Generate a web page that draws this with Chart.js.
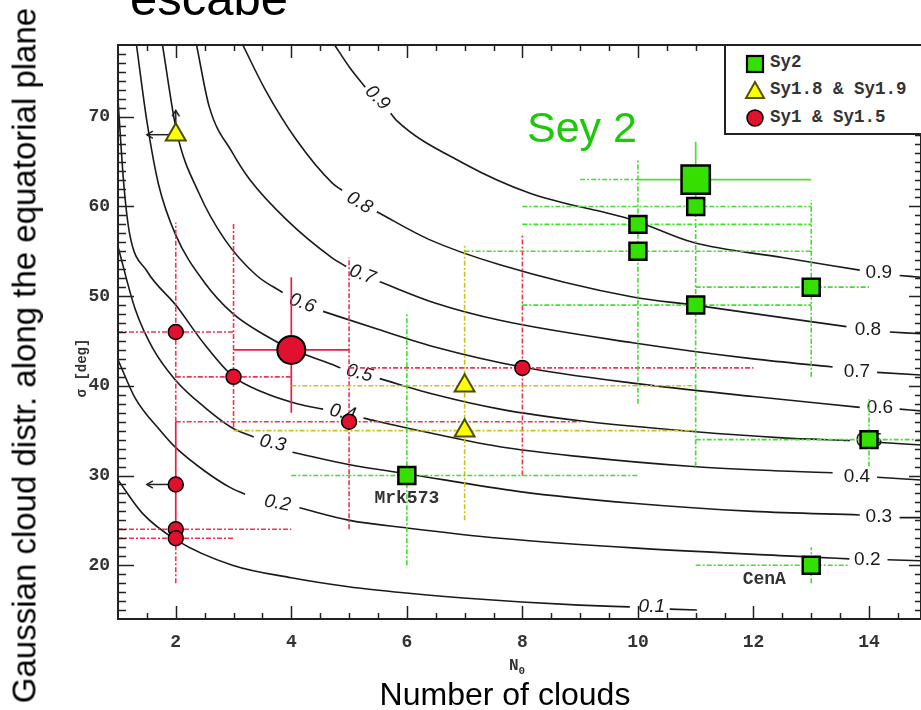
<!DOCTYPE html>
<html>
<head>
<meta charset="utf-8">
<script src="https://cdn.jsdelivr.net/npm/chart.js@4.4.1/dist/chart.umd.min.js"></script>
<style>
html,body{margin:0;padding:0;background:#fff;}
#wrap{position:relative;width:921px;height:710px;overflow:hidden;background:#fff;}
#c{position:absolute;left:0;top:0;}
.t{position:absolute;white-space:nowrap;font-family:"Liberation Sans",Arial,sans-serif;color:#000;line-height:1;}
.m{position:absolute;white-space:nowrap;font-family:"Liberation Mono",monospace;font-weight:bold;color:#333;line-height:1;}
#legend{position:absolute;left:724px;top:44px;width:200px;height:91px;border:2px solid #222;background:#fff;box-sizing:border-box;}
#legend svg{position:absolute;}
</style>
</head>
<body>
<div id="wrap">
<canvas id="c" width="921" height="710"></canvas>
<div class="t" style="left:130px;top:-26.5px;font-size:49px;">escabe</div>
<div class="t" style="left:527px;top:105.6px;font-size:43px;color:#1bc80a;">Sey 2</div>
<div class="t" style="left:205px;width:600px;text-align:center;top:678px;font-size:32px;">Number of clouds</div>
<div class="t" style="left:-326.4px;top:338.5px;width:700px;height:33px;text-align:center;font-size:33px;transform:rotate(-90deg);">Gaussian cloud distr. along the equatorial plane</div>
<div class="m" style="left:32px;top:361px;width:100px;text-align:center;font-size:14px;transform:rotate(-90deg);">σ [deg]</div>
<div class="m" style="left:509px;top:658px;font-size:16px;">N<sub style="font-size:11px;">0</sub></div>
<div id="legend">
  <svg style="left:19px;top:8px;" width="20" height="20"><rect x="2" y="2" width="16" height="16" fill="#33e000" stroke="#000" stroke-width="2.2"/></svg>
  <svg style="left:18px;top:34px;" width="22" height="20"><polygon points="11,2 20,18 2,18" fill="#ffff00" stroke="#555500" stroke-width="2"/></svg>
  <svg style="left:19px;top:62px;" width="20" height="20"><circle cx="10" cy="10" r="8" fill="#e0102e" stroke="#000" stroke-width="1.5"/></svg>
  <div class="m" style="left:44px;top:8px;font-size:17.5px;">Sy2</div>
  <div class="m" style="left:44px;top:35px;font-size:17.5px;">Sy1.8 &amp; Sy1.9</div>
  <div class="m" style="left:44px;top:63px;font-size:17.5px;">Sy1 &amp; Sy1.5</div>
</div>
</div>
<script>
// ---------- axis tick labels ----------
const xTickLabels = [2, 4, 6, 8, 10, 12, 14];
const yTickLabels = [20, 30, 40, 50, 60, 70];

// ---------- Sy2 (green squares) ----------
const sy2X = [11, 10, 10, 11, 13, 14, 6, 13];
const sy2Y = [60, 58, 55, 49, 51, 34, 30, 20];
// error ranges [xlo, xhi, ylo, yhi]
const sy2Err = [[8,13,49,60],[8,13,58,65.2],[7,13,38,58],[8,13,31,49],[11,14,41,60.7],[11,15,31,38.5],[4,10,20,48.1],[11,13.67,18,22]];
const sy2MeanX = [11];
const sy2MeanY = [63];
const sy2MeanErr = [[10,13,59.5,67.2]];
const sy2MeanErrExt = [[9,10,null,null]];

// ---------- Sy1.8 & Sy1.9 (yellow triangles) ----------
const sy18X = [2, 7, 7];
const sy18Y = [68, 40, 35];
const sy18Err = [null,[4,11,35,55.7],[3,11,25,35]];
// limits [x, y, xArrowTo, yArrowTo]
const sy18Limits = [[2,68,1.5,70.7]];

// ---------- Sy1 & Sy1.5 (red circles) ----------
const sy1X = [2, 3, 5, 8, 2, 2, 2];
const sy1Y = [46, 41, 36, 42, 29, 24, 23];
const sy1Err = [[1,3,36,58.2],[2,4,35.4,58.2],[2,9,24,54.3],[5,12,30,57],null,[1,4,null,null],[1,3,18,23]];
const sy1SolidErr = [null,null,null,null,[null,null,23,36],null,null];
const sy1Limits = [[2,29,1.5,null]];
const sy1MeanX = [4];
const sy1MeanY = [44];
const sy1MeanErr = [[3,5,37,52.1]];

// ---------- escape-probability contours (null = label gap) ----------
const c09 = [[4.75,78],[5.01,75.5],[5.28,73.3],null,[5.72,70.4],[5.82,69.6],[6.97,64.85],[8.12,61.5],[9.91,58.5],[10.95,56.0],[12.5,54.3],[13.84,52.9],null,[14.53,52.3],[14.9,52.1]];
const c08 = [[3.16,78],[3.55,73.0],[4.09,67.4],[4.71,62.6],[4.88,61.8],null,[5.48,59.4],[6.39,56.3],[7.61,53.5],[9.91,49.9],[10.98,49.0],[12.5,47.6],[13.61,46.6],null,[14.36,46.0],[14.9,45.8]];
const c07 = [[2.36,78],[2.58,71.1],[2.98,66.0],[3.28,63.0],[3.92,58.5],[4.7,54.3],[4.95,53.3],null,[5.53,51.6],[6.5,49.2],[7.61,47.3],[9.91,44.8],[12.0,43.0],[13.37,42.1],null,[14.14,41.5],[14.9,41.2]];
const c06 = [[1.77,78],[2.02,68.2],[2.4,61.5],[2.85,56.3],[3.4,52.3],[3.85,50.4],null,[4.55,48.3],[5.5,46.3],[6.5,44.3],[7.99,42.1],[9.91,40.3],[12.0,38.8],[13.84,37.6],null,[14.53,37.4],[14.9,37.2]];
const c05 = [[1.32,78],[1.5,69.5],[1.7,62.5],[2.0,56.8],[2.5,51.5],[2.98,48.1],[3.5,45.8],[4.0,44.1],[4.7,42.4],[4.85,42.0],null,[5.53,40.8],[6.5,39.0],[7.61,37.4],[9.0,36.1],[10.95,34.9],[12.5,34.2],[13.67,33.9],null,[14.14,33.7],[14.9,33.4]];
const c04 = [[1.0,71.9],[1.1,62.5],[1.2,57.0],[1.5,52.8],[2.0,49.0],[2.5,44.6],[2.98,41.1],[3.5,39.3],[4.1,38.0],[4.55,37.4],null,[5.25,36.4],[6.0,35.3],[7.61,33.2],[9.0,32.1],[10.95,31.0],[12.5,30.5],[13.37,30.3],null,[14.14,29.8],[14.9,29.5]];
const c03 = [[1.0,55.5],[1.3,48.5],[1.6,44.2],[2.0,40.6],[2.5,37.6],[2.98,35.3],[3.35,34.3],null,[4.02,32.6],[5.01,31.2],[6.0,30.2],[7.95,28.2],[9.91,26.9],[12.0,26.0],[13.84,25.6],null,[14.53,25.3],[14.9,25.3]];
const c02 = [[1.0,42.9],[1.3,38.6],[1.72,35.1],[2.0,33.1],[2.5,30.5],[2.93,28.7],[3.2,27.9],null,[4.14,26.4],[5.01,25.0],[6.0,24.15],[7.61,23.0],[9.98,21.9],[13.01,20.9],[13.66,20.7],null,[14.32,20.6],[14.9,20.5]];
const c01 = [[1.0,29.5],[1.42,25.8],[2.01,22.8],[2.98,20.0],[4.0,18.6],[4.99,17.6],[5.99,16.9],[6.98,16.35],[7.99,15.9],[8.99,15.55],[9.86,15.35],null,[10.55,15.1],[11.02,15.0]];

// contour labels: [text, x, y, angle, italic]
const contourLabels = [
  ['0.9',5.49,72.1,45,true],['0.8',5.18,60.4,30,true],['0.7',5.23,52.4,20,true],['0.6',4.19,49.2,20,true],
  ['0.5',5.18,41.4,15,true],['0.4',4.89,37.0,12,true],['0.3',3.68,33.6,12,true],['0.2',3.76,26.9,10,true],
  ['0.1',10.24,15.4,0,true],
  ['0.9',14.17,52.6,0,false],['0.8',13.98,46.2,0,false],['0.7',13.79,41.55,0,false],['0.6',14.19,37.6,0,false],
  ['0.5',14.0,33.9,0,false],['0.4',13.79,29.9,0,false],['0.3',14.17,25.4,0,false],['0.2',13.97,20.6,0,false]
];
const pointNames = [['Mrk573',6,30],['CenA',13,20]];

// ---------- helpers ----------
const toXY = (xs, ys) => xs.map((x, i) => ({x: x, y: ys[i]}));
const toCurve = arr => arr.map(p => p ? {x: p[0], y: p[1]} : {x: NaN, y: null});
function errSegs(xs, ys, errs) {
  const pts = [];
  errs.forEach((e, i) => {
    if (!e) return;
    const [xlo, xhi, ylo, yhi] = e;
    if (xlo != null) pts.push({x: xlo, y: ys[i]}, {x: xhi, y: ys[i]}, {x: xhi, y: null});
    if (ylo != null) pts.push({x: xs[i], y: ylo}, {x: xs[i], y: yhi}, {x: xs[i], y: null});
  });
  return pts;
}
const dash = [5, 2, 2, 2];
const errDs = (data, color, dashed, w) => ({type: 'scatter', data, showLine: true, spanGaps: false, borderColor: color,
  borderWidth: w || 1.6, borderDash: dashed ? dash : [], pointRadius: 0, tension: 0, order: 20});
const curveDs = arr => ({type: 'scatter', data: toCurve(arr), showLine: true, spanGaps: false, borderColor: '#1a1a1a',
  borderWidth: 1.6, pointRadius: 0, tension: 0.4, cubicInterpolationMode: 'monotone', order: 30});

const datasets = [
  curveDs(c01), curveDs(c02), curveDs(c03), curveDs(c04), curveDs(c05), curveDs(c06), curveDs(c07), curveDs(c08), curveDs(c09),
  errDs(errSegs(sy2X, sy2Y, sy2Err), '#3fe02a', true),
  errDs(errSegs(sy2MeanX, sy2MeanY, sy2MeanErrExt), '#3fe02a', true),
  errDs(errSegs(sy2MeanX, sy2MeanY, sy2MeanErr), '#4ee030', false, 1.7),
  errDs(errSegs(sy18X, sy18Y, sy18Err), '#c9c21a', true),
  errDs(errSegs(sy1X, sy1Y, sy1Err), '#f0344f', true),
  errDs(errSegs(sy1X, sy1Y, sy1SolidErr), '#ec1c40', false, 1.7),
  errDs(errSegs(sy1MeanX, sy1MeanY, sy1MeanErr), '#ec1c40', false, 1.7),
  {label: 'Sy2', data: toXY(sy2X, sy2Y), pointStyle: 'rect', pointRadius: 12, backgroundColor: '#33e000', borderColor: '#000', borderWidth: 2.5, order: 2},
  {label: 'Sy2 mean', data: toXY(sy2MeanX, sy2MeanY), pointStyle: 'rect', pointRadius: 20, backgroundColor: '#33e000', borderColor: '#000', borderWidth: 2.5, order: 3},
  {label: 'Sy1.8 & Sy1.9', data: toXY(sy18X, sy18Y), pointStyle: 'triangle', pointRadius: 11.5, backgroundColor: '#ffff00', borderColor: '#4d4d00', borderWidth: 2, order: 2},
  {label: 'Sy1 & Sy1.5', data: toXY(sy1X, sy1Y), pointStyle: 'circle', pointRadius: 7.5, backgroundColor: '#e0102e', borderColor: '#000', borderWidth: 1.5, order: 2},
  {label: 'Sy1 mean', data: toXY(sy1MeanX, sy1MeanY), pointStyle: 'circle', pointRadius: 14, backgroundColor: '#e0102e', borderColor: '#000', borderWidth: 2, order: 3}
];

const annotPlugin = {
  id: 'annot',
  beforeDatasetsDraw(chart) {
    const {ctx, scales: {x, y}} = chart;
    ctx.save();
    ctx.fillStyle = '#1a1a1a';
    ctx.textAlign = 'center';
    ctx.textBaseline = 'middle';
    contourLabels.forEach(([t, vx, vy, ang, it]) => {
      ctx.save();
      ctx.translate(x.getPixelForValue(vx), y.getPixelForValue(vy));
      ctx.rotate(ang * Math.PI / 180);
      ctx.font = (it ? 'italic ' : '') + '19px "Liberation Sans", Arial, sans-serif';
      ctx.fillText(t, 0, 0);
      ctx.restore();
    });
    ctx.strokeStyle = '#222';
    ctx.lineWidth = 1.5;
    const arrow = (x0, y0, x1, y1) => {
      ctx.beginPath(); ctx.moveTo(x0, y0); ctx.lineTo(x1, y1); ctx.stroke();
      const a = Math.atan2(y1 - y0, x1 - x0), h = 7;
      ctx.beginPath();
      ctx.moveTo(x1 - h * Math.cos(a - 0.55), y1 - h * Math.sin(a - 0.55));
      ctx.lineTo(x1, y1);
      ctx.lineTo(x1 - h * Math.cos(a + 0.55), y1 - h * Math.sin(a + 0.55));
      ctx.stroke();
    };
    [...sy18Limits, ...sy1Limits].forEach(([vx, vy, tx, ty]) => {
      const px = x.getPixelForValue(vx), py = y.getPixelForValue(vy);
      if (tx != null) arrow(px, py, x.getPixelForValue(tx), py);
      if (ty != null) arrow(px, py, px, y.getPixelForValue(ty));
    });
    ctx.restore();
  },
  afterDatasetsDraw(chart) {
    const {ctx, chartArea: a, scales: {x, y}} = chart;
    ctx.save();
    ctx.strokeStyle = '#222';
    ctx.lineWidth = 2;
    ctx.strokeRect(a.left, a.top, a.right - a.left, a.bottom - a.top);
    ctx.lineWidth = 1.5;
    ctx.beginPath();
    for (let v = 1.5; v < 14.9; v += 0.5) {
      const px = Math.round(x.getPixelForValue(v)) + 0.5;
      const len = (v % 2 === 0) ? 13 : 6;
      ctx.moveTo(px, a.bottom); ctx.lineTo(px, a.bottom - len);
      ctx.moveTo(px, a.top); ctx.lineTo(px, a.top + len);
    }
    for (let v = 15; v <= 77; v++) {
      const py = Math.round(y.getPixelForValue(v)) + 0.5;
      const major = v % 10 === 0;
      ctx.moveTo(a.left, py); ctx.lineTo(a.left + (major ? 16 : 8), py);
      ctx.moveTo(a.right, py); ctx.lineTo(a.right - (major ? 12 : 6), py);
    }
    ctx.stroke();
    ctx.fillStyle = '#333';
    ctx.font = 'bold 18px "Liberation Mono", monospace';
    ctx.textAlign = 'center';
    ctx.textBaseline = 'middle';
    const offs = {Mrk573: [0, 23], CenA: [-47, 14]};
    pointNames.forEach(([t, vx, vy]) => {
      const o = offs[t];
      ctx.fillText(t, x.getPixelForValue(vx) + o[0], y.getPixelForValue(vy) + o[1]);
    });
    ctx.restore();
  }
};

const tickFont = {family: '"Liberation Mono", monospace', size: 18, weight: 'bold'};
new Chart(document.getElementById('c'), {
  type: 'scatter',
  data: {datasets},
  options: {
    responsive: false,
    animation: false,
    layout: {autoPadding: false, padding: {top: 45, right: 0, left: 0, bottom: 0}},
    plugins: {legend: {display: false}, tooltip: {enabled: false}},
    scales: {
      x: {
        type: 'linear', min: 1, max: 14.9,
        grid: {display: false, drawTicks: false}, border: {display: false},
        afterBuildTicks: s => { s.ticks = xTickLabels.map(v => ({value: v})); },
        afterFit: s => { s.height = 91; s.paddingLeft = 0; s.paddingRight = 0; },
        ticks: {font: tickFont, color: '#333', padding: 13, maxRotation: 0, autoSkip: false}
      },
      y: {
        type: 'linear', min: 14, max: 78,
        grid: {display: false, drawTicks: false}, border: {display: false},
        afterBuildTicks: s => { s.ticks = yTickLabels.map(v => ({value: v})); },
        afterFit: s => { s.width = 118; s.paddingTop = 0; s.paddingBottom = 0; },
        ticks: {font: tickFont, color: '#333', padding: 8, autoSkip: false}
      }
    }
  },
  plugins: [annotPlugin]
});
</script>
</body>
</html>
